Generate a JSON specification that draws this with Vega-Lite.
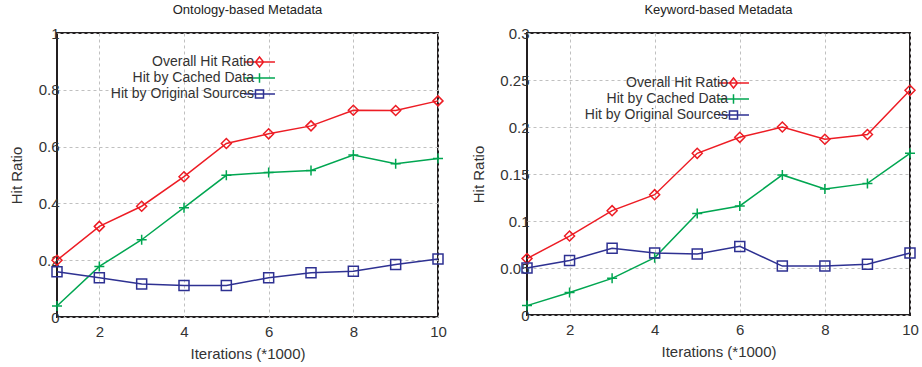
{
  "$schema": "https://vega.github.io/schema/vega-lite/v6.json",
  "padding": {"left": 8, "top": 3, "right": 5, "bottom": 5},
  "background": "white",
  "config": {
    "font": "Liberation Sans",
    "view": {"stroke": "#231f20", "strokeWidth": 2},
    "axis": {
      "domain": false,
      "ticks": false,
      "labelFont": "Liberation Sans",
      "labelFontSize": 15,
      "labelColor": "#333333",
      "titleFont": "Liberation Sans",
      "titleFontSize": 15,
      "titleFontWeight": "normal",
      "titleColor": "#333333",
      "gridColor": "#c0c0c0",
      "gridDash": [3, 3],
      "gridWidth": 1,
      "gridOpacity": 1,
      "labelFlush": false,
      "labelOverlap": false
    },
    "title": {"font": "Liberation Sans", "fontSize": 13, "fontWeight": "normal", "color": "#222222", "offset": 9},
    "legend": {
      "orient": "none",
      "title": null,
      "labelFont": "Liberation Sans",
      "labelFontSize": 14,
      "labelColor": "#333333",
      "labelAlign": "right",
      "labelOffset": -12.5,
      "symbolSize": 144,
      "symbolStrokeWidth": 1.5,
      "rowPadding": 0
    }
  },
  "hconcat": [
    {
      "title": "Ontology-based Metadata",
      "width": 381,
      "height": 284,
      "data": {"values": [
        {"x": 1, "y": 0.200, "series": "Overall Hit Ratio"},
        {"x": 2, "y": 0.319, "series": "Overall Hit Ratio"},
        {"x": 3, "y": 0.390, "series": "Overall Hit Ratio"},
        {"x": 4, "y": 0.494, "series": "Overall Hit Ratio"},
        {"x": 5, "y": 0.611, "series": "Overall Hit Ratio"},
        {"x": 6, "y": 0.645, "series": "Overall Hit Ratio"},
        {"x": 7, "y": 0.673, "series": "Overall Hit Ratio"},
        {"x": 8, "y": 0.728, "series": "Overall Hit Ratio"},
        {"x": 9, "y": 0.727, "series": "Overall Hit Ratio"},
        {"x": 10, "y": 0.761, "series": "Overall Hit Ratio"},
        {"x": 1, "y": 0.039, "series": "Hit by Cached Data"},
        {"x": 2, "y": 0.178, "series": "Hit by Cached Data"},
        {"x": 3, "y": 0.272, "series": "Hit by Cached Data"},
        {"x": 4, "y": 0.385, "series": "Hit by Cached Data"},
        {"x": 5, "y": 0.499, "series": "Hit by Cached Data"},
        {"x": 6, "y": 0.509, "series": "Hit by Cached Data"},
        {"x": 7, "y": 0.516, "series": "Hit by Cached Data"},
        {"x": 8, "y": 0.570, "series": "Hit by Cached Data"},
        {"x": 9, "y": 0.540, "series": "Hit by Cached Data"},
        {"x": 10, "y": 0.558, "series": "Hit by Cached Data"},
        {"x": 1, "y": 0.159, "series": "Hit by Original Sources"},
        {"x": 2, "y": 0.138, "series": "Hit by Original Sources"},
        {"x": 3, "y": 0.116, "series": "Hit by Original Sources"},
        {"x": 4, "y": 0.111, "series": "Hit by Original Sources"},
        {"x": 5, "y": 0.111, "series": "Hit by Original Sources"},
        {"x": 6, "y": 0.138, "series": "Hit by Original Sources"},
        {"x": 7, "y": 0.156, "series": "Hit by Original Sources"},
        {"x": 8, "y": 0.161, "series": "Hit by Original Sources"},
        {"x": 9, "y": 0.185, "series": "Hit by Original Sources"},
        {"x": 10, "y": 0.204, "series": "Hit by Original Sources"}
      ]},
      "encoding": {
        "x": {"field": "x", "type": "quantitative", "scale": {"domain": [1, 10], "nice": false, "zero": false},
              "axis": {"title": "Iterations (*1000)", "values": [2, 4, 6, 8, 10], "labelPadding": 7, "labelDx": 4, "titlePadding": 7}},
        "y": {"field": "y", "type": "quantitative", "scale": {"domain": [0, 1], "nice": false},
              "axis": {"title": "Hit Ratio", "values": [0, 0.2, 0.4, 0.6, 0.8, 1], "format": "~g", "labelPadding": -2, "titlePadding": 14}},
        "color": {"field": "series", "type": "nominal",
                  "scale": {"domain": ["Overall Hit Ratio", "Hit by Cached Data", "Hit by Original Sources"], "range": ["#ed1c24", "#00a651", "#2e3192"]}}
      },
      "layer": [
        {
          "mark": {"type": "line", "strokeWidth": 1.5},
          "encoding": {
            "color": {"field": "series", "type": "nominal",
                      "scale": {"domain": ["Overall Hit Ratio", "Hit by Cached Data", "Hit by Original Sources"], "range": ["#ed1c24", "#00a651", "#2e3192"]},
                      "legend": {"legendX": 195.5, "legendY": 22,
                        "encode": {"symbols": {"update": {"shape": {"signal": "datum.value === 'Overall Hit Ratio' ? 'M-2.58,0H2.58M0,-0.83L0.67,0L0,0.83L-0.67,0Z' : datum.value === 'Hit by Cached Data' ? 'M-2.58,0H2.58M0,-0.78V0.78' : 'M-2.58,0H2.58M-0.67,-0.67H0.67V0.67H-0.67Z'"}, "fill": {"value": "transparent"}}}}}}
          }
        },
        {
          "transform": [{"filter": "datum.series === 'Overall Hit Ratio'"}],
          "mark": {"type": "point", "shape": "diamond", "filled": false, "strokeWidth": 1.5, "size": 100, "opacity": 1},
          "encoding": {"color": {"field": "series", "type": "nominal", "legend": null}}
        },
        {
          "transform": [{"filter": "datum.series === 'Hit by Cached Data'"}],
          "mark": {"type": "point", "shape": "M-1,0H1M0,-1V1", "filled": false, "strokeWidth": 1.5, "size": 100, "opacity": 1},
          "encoding": {"color": {"field": "series", "type": "nominal", "legend": null}}
        },
        {
          "transform": [{"filter": "datum.series === 'Hit by Original Sources'"}],
          "mark": {"type": "point", "shape": "square", "filled": false, "strokeWidth": 1.5, "size": 100, "opacity": 1},
          "encoding": {"color": {"field": "series", "type": "nominal", "legend": null}}
        }
      ]
    },
    {
      "title": "Keyword-based Metadata",
      "width": 383,
      "height": 282,
      "data": {"values": [
        {"x": 1, "y": 0.060, "series": "Overall Hit Ratio"},
        {"x": 2, "y": 0.084, "series": "Overall Hit Ratio"},
        {"x": 3, "y": 0.111, "series": "Overall Hit Ratio"},
        {"x": 4, "y": 0.128, "series": "Overall Hit Ratio"},
        {"x": 5, "y": 0.172, "series": "Overall Hit Ratio"},
        {"x": 6, "y": 0.189, "series": "Overall Hit Ratio"},
        {"x": 7, "y": 0.200, "series": "Overall Hit Ratio"},
        {"x": 8, "y": 0.187, "series": "Overall Hit Ratio"},
        {"x": 9, "y": 0.192, "series": "Overall Hit Ratio"},
        {"x": 10, "y": 0.239, "series": "Overall Hit Ratio"},
        {"x": 1, "y": 0.010, "series": "Hit by Cached Data"},
        {"x": 2, "y": 0.024, "series": "Hit by Cached Data"},
        {"x": 3, "y": 0.039, "series": "Hit by Cached Data"},
        {"x": 4, "y": 0.061, "series": "Hit by Cached Data"},
        {"x": 5, "y": 0.108, "series": "Hit by Cached Data"},
        {"x": 6, "y": 0.116, "series": "Hit by Cached Data"},
        {"x": 7, "y": 0.149, "series": "Hit by Cached Data"},
        {"x": 8, "y": 0.134, "series": "Hit by Cached Data"},
        {"x": 9, "y": 0.140, "series": "Hit by Cached Data"},
        {"x": 10, "y": 0.172, "series": "Hit by Cached Data"},
        {"x": 1, "y": 0.050, "series": "Hit by Original Sources"},
        {"x": 2, "y": 0.058, "series": "Hit by Original Sources"},
        {"x": 3, "y": 0.071, "series": "Hit by Original Sources"},
        {"x": 4, "y": 0.066, "series": "Hit by Original Sources"},
        {"x": 5, "y": 0.065, "series": "Hit by Original Sources"},
        {"x": 6, "y": 0.073, "series": "Hit by Original Sources"},
        {"x": 7, "y": 0.052, "series": "Hit by Original Sources"},
        {"x": 8, "y": 0.052, "series": "Hit by Original Sources"},
        {"x": 9, "y": 0.054, "series": "Hit by Original Sources"},
        {"x": 10, "y": 0.066, "series": "Hit by Original Sources"}
      ]},
      "encoding": {
        "x": {"field": "x", "type": "quantitative", "scale": {"domain": [1, 10], "nice": false, "zero": false},
              "axis": {"title": "Iterations (*1000)", "values": [2, 4, 6, 8, 10], "labelPadding": 7, "labelDx": 5, "titlePadding": 7}},
        "y": {"field": "y", "type": "quantitative", "scale": {"domain": [0, 0.3], "nice": false},
              "axis": {"title": "Hit Ratio", "values": [0, 0.05, 0.1, 0.15, 0.2, 0.25, 0.3], "format": "~g", "labelPadding": -2, "titlePadding": 13}},
        "color": {"field": "series", "type": "nominal",
                  "scale": {"domain": ["Overall Hit Ratio", "Hit by Cached Data", "Hit by Original Sources"], "range": ["#ed1c24", "#00a651", "#2e3192"]}}
      },
      "layer": [
        {
          "mark": {"type": "line", "strokeWidth": 1.5},
          "encoding": {
            "color": {"field": "series", "type": "nominal",
                      "scale": {"domain": ["Overall Hit Ratio", "Hit by Cached Data", "Hit by Original Sources"], "range": ["#ed1c24", "#00a651", "#2e3192"]},
                      "legend": {"legendX": 199.5, "legendY": 43,
                        "encode": {"symbols": {"update": {"shape": {"signal": "datum.value === 'Overall Hit Ratio' ? 'M-2.58,0H2.58M0,-0.83L0.67,0L0,0.83L-0.67,0Z' : datum.value === 'Hit by Cached Data' ? 'M-2.58,0H2.58M0,-0.78V0.78' : 'M-2.58,0H2.58M-0.67,-0.67H0.67V0.67H-0.67Z'"}, "fill": {"value": "transparent"}}}}}}
          }
        },
        {
          "transform": [{"filter": "datum.series === 'Overall Hit Ratio'"}],
          "mark": {"type": "point", "shape": "diamond", "filled": false, "strokeWidth": 1.5, "size": 100, "opacity": 1},
          "encoding": {"color": {"field": "series", "type": "nominal", "legend": null}}
        },
        {
          "transform": [{"filter": "datum.series === 'Hit by Cached Data'"}],
          "mark": {"type": "point", "shape": "M-1,0H1M0,-1V1", "filled": false, "strokeWidth": 1.5, "size": 100, "opacity": 1},
          "encoding": {"color": {"field": "series", "type": "nominal", "legend": null}}
        },
        {
          "transform": [{"filter": "datum.series === 'Hit by Original Sources'"}],
          "mark": {"type": "point", "shape": "square", "filled": false, "strokeWidth": 1.5, "size": 100, "opacity": 1},
          "encoding": {"color": {"field": "series", "type": "nominal", "legend": null}}
        }
      ]
    }
  ],
  "resolve": {"scale": {"color": "independent", "x": "independent", "y": "independent"}, "legend": {"color": "independent"}},
  "spacing": 89,
  "bounds": "flush"
}
